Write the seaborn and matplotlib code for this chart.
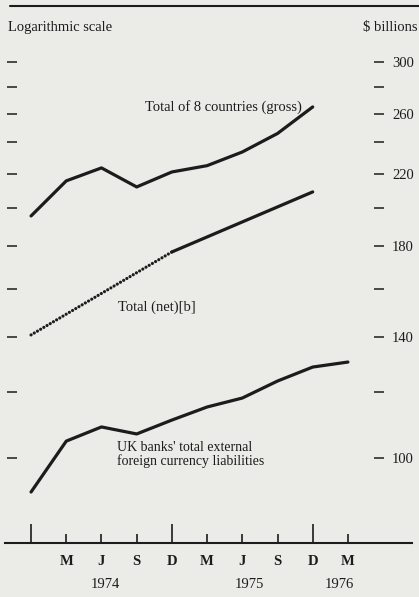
import numpy as np
import pandas as pd
import seaborn as sns
import matplotlib.pyplot as plt
from matplotlib.lines import Line2D
from matplotlib.ticker import FixedLocator, FixedFormatter, NullLocator

# quarter-end months, Dec 1973 .. Mar 1976
quarter_idx = [0, 1, 2, 3, 4, 5, 6, 7, 8, 9]
quarter_letters = ['', 'M', 'J', 'S', 'D', 'M', 'J', 'S', 'D', 'M']
year_labels = ['1974', '1975', '1976']
year_pos = [2.1, 6.2, 8.75]

# $ billions
gross_vals = [195.7, 215.7, 223.6, 212.1, 221.1, 225.0, 233.7, 246.0, 264.8]
net_idx = [0, 4, 8]
net_vals = [140.7, 177.1, 209.2]
uk_vals = [91.0, 104.8, 109.0, 106.9, 111.1, 115.2, 118.1, 123.8, 128.7, 130.5]

y_ticks = [100, 120, 140, 160, 180, 200, 220, 240, 260, 280, 300]
y_labels = ['100', '', '140', '', '180', '', '220', '', '260', '', '300']

ink = '#1c1c1c'
paper = '#ebebe8'

sns.set_theme(style='white')
plt.rcParams['font.family'] = ['Liberation Serif', 'DejaVu Serif']

fig = plt.figure(figsize=(4.19, 5.97), dpi=100)
fig.patch.set_facecolor(paper)
ax = fig.add_axes([5/419, 54/597, 407/419, 493/597])
ax.set_facecolor(paper)
ax.set_yscale('log')

gross_df = pd.DataFrame({'q': quarter_idx[:len(gross_vals)], 'v': gross_vals})
uk_df = pd.DataFrame({'q': quarter_idx, 'v': uk_vals})
net_df = pd.DataFrame({'q': net_idx, 'v': net_vals})

sns.lineplot(data=gross_df, x='q', y='v', ax=ax, color=ink, lw=2.3)
sns.lineplot(data=uk_df, x='q', y='v', ax=ax, color=ink, lw=2.3)
sns.lineplot(data=net_df.iloc[:2], x='q', y='v', ax=ax, color=ink, lw=2.3,
             linestyle=(0, (0.01, 1.15)), dash_capstyle='round')
sns.lineplot(data=net_df.iloc[1:], x='q', y='v', ax=ax, color=ink, lw=2.3)

ax.set_xlim(-0.74, 10.82)
ax.set_ylim(79.0, 310.1)
ax.set_xlabel('')
ax.set_ylabel('')

# y axis: dashes on both sides, labels on right only
ax.yaxis.set_major_locator(FixedLocator(y_ticks))
ax.yaxis.set_major_formatter(FixedFormatter(y_labels))
ax.yaxis.set_minor_locator(NullLocator())
ax.tick_params(axis='y', which='major', left=True, right=True, labelleft=False,
               labelright=True, direction='inout', length=6.5, width=1.1,
               color=ink, labelsize=10.5, labelcolor=ink, pad=6.5)
ax.spines['left'].set_position(('axes', 0.016))
ax.spines['right'].set_position(('axes', 0.9177))
ax.spines['left'].set_color('none')
ax.spines['right'].set_color('none')
ax.spines['top'].set_visible(False)
ax.spines['bottom'].set_color(ink)
ax.spines['bottom'].set_linewidth(1.5)

# x axis: ticks pointing up, long ones at December
ax.xaxis.set_major_locator(FixedLocator(quarter_idx))
ax.xaxis.set_major_formatter(FixedFormatter(quarter_letters))
ax.xaxis.set_minor_locator(NullLocator())
ax.tick_params(axis='x', which='major', bottom=True, direction='in', width=1.2,
               color=ink, labelsize=10.5, labelcolor=ink, pad=8.5)
for i, t in enumerate(ax.xaxis.get_major_ticks()):
    t.tick1line.set_markersize(13.5 if quarter_letters[i] in ('', 'D') else 6.5)
for lab in ax.get_xticklabels():
    lab.set_fontweight('bold')

for yl, yp in zip(year_labels, year_pos):
    ax.text(yp, -0.085, yl, transform=ax.get_xaxis_transform(), ha='center',
            va='center', fontsize=10.5, color=ink)

# series labels
ax.text(7.7, 265, 'Total of 8 countries (gross)', ha='right', va='center',
        fontsize=10.5, color=ink)
ax.text(2.47, 152, 'Total (net)[b]', ha='left', va='center', fontsize=10.5, color=ink)
ax.text(2.44, 101, "UK banks' total external\nforeign currency liabilities",
        ha='left', va='center', fontsize=10, color=ink, linespacing=0.95)

fig.text(8/419, 1 - 27/597, 'Logarithmic scale', ha='left', va='center',
         fontsize=10.5, color=ink)
fig.text(417/419, 1 - 27/597, '$ billions', ha='right', va='center',
         fontsize=10.5, color=ink)
fig.add_artist(Line2D([10/419, 1.0], [1 - 6/597, 1 - 6/597], transform=fig.transFigure,
                      color=ink, lw=1.5))

fig.savefig('out.png', dpi=100, facecolor=paper)
